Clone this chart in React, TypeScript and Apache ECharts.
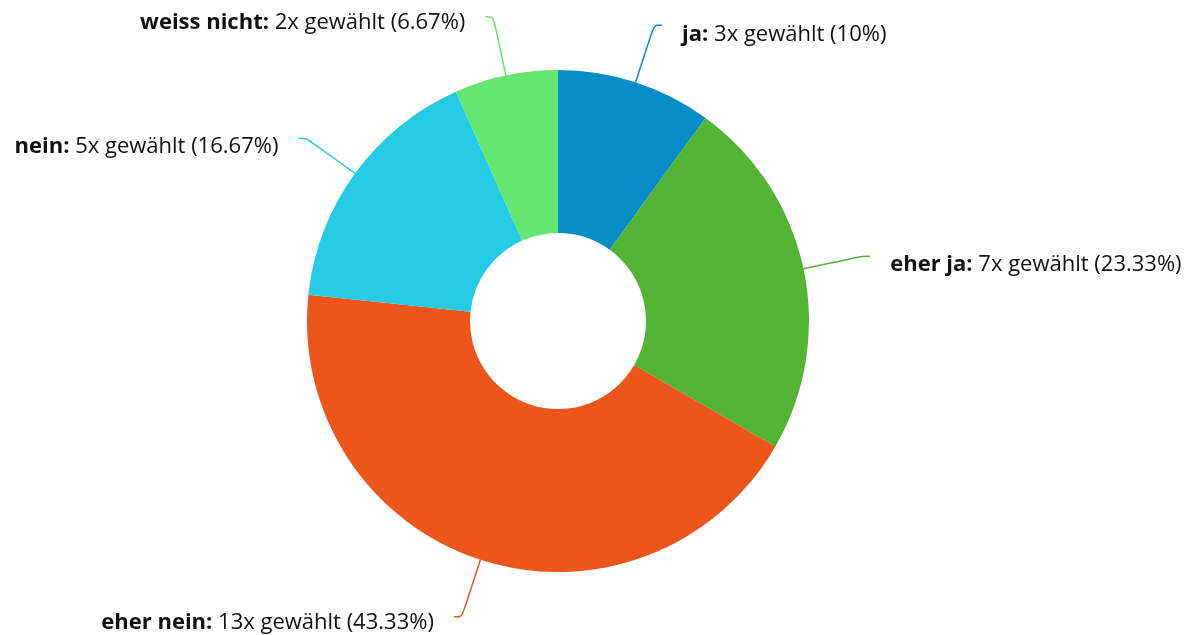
import React, { useEffect, useRef } from "react";
import * as echarts from "echarts";

const categories = ["ja", "eher ja", "eher nein", "nein", "weiss nicht"];
const counts = [3, 7, 13, 5, 2];
const percents = ["10", "23.33", "43.33", "16.67", "6.67"];
const colors = ["#068dc8", "#52b335", "#ec561b", "#25cbe5", "#65e670"];
const labelTopPad = [14, 12, 6, 12, 6];

export default function App() {
  const ref = useRef<HTMLDivElement>(null);
  useEffect(() => {
    const chart = echarts.init(ref.current!, null, { renderer: "svg" });
    chart.setOption({
      animation: false,
      series: [
        {
          type: "pie",
          center: [558, 321],
          radius: [88, 251],
          startAngle: 90,
          clockwise: true,
          avoidLabelOverlap: false,
          data: categories.map((c, i) => ({
            name: c,
            value: counts[i],
            itemStyle: { color: colors[i] },
            label: { padding: [labelTopPad[i], 0, 0, 0] },
            labelLine: { lineStyle: { color: colors[i], width: 1.5 } },
          })),
          label: {
            show: true,
            fontFamily: "Open Sans",
            fontSize: 22,
            color: "#111",
            distanceToLabelLine: 20,
            formatter: (p: any) =>
              `{b|${p.name}:} ${counts[p.dataIndex]}x gewählt (${percents[p.dataIndex]}%)`,
            rich: {
              b: { fontWeight: "bold", fontFamily: "Open Sans", fontSize: 22, color: "#111" },
            },
          },
          labelLine: { show: true, length: 60, length2: 8, smooth: true },
          emphasis: { disabled: true },
        },
      ],
    });
    return () => chart.dispose();
  }, []);
  return (
    <div
      ref={ref}
      style={{ position: "fixed", left: 0, top: 0, width: 1189, height: 635 }}
    />
  );
}
